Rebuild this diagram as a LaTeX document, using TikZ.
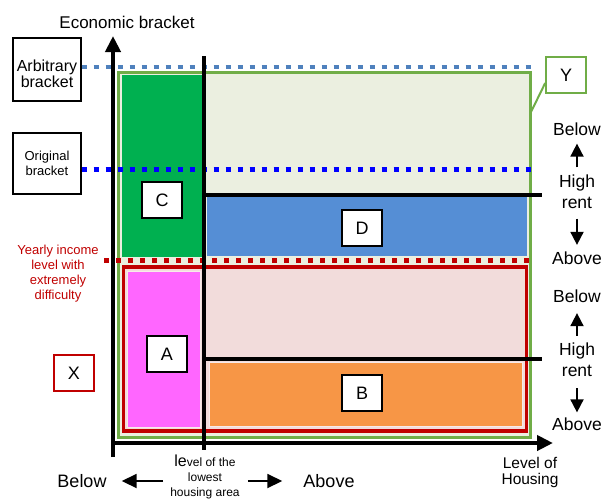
\documentclass[tikz,border=0pt]{standalone}
\usepackage{fontspec}
\setmainfont{Liberation Sans}
\usepackage{tikz}
\usetikzlibrary{arrows.meta,positioning}
\definecolor{bandgreen}{HTML}{70AD47}
\definecolor{palegreen}{HTML}{EBEFE0}
\definecolor{zoneC}{HTML}{00B050}
\definecolor{zoneD}{HTML}{558ED5}
\definecolor{darkred}{HTML}{C00000}
\definecolor{palered}{HTML}{F2DCDB}
\definecolor{zoneA}{HTML}{FF66FF}
\definecolor{zoneB}{HTML}{F79646}
\definecolor{steelblue}{HTML}{4F81BD}
\definecolor{pureblue}{HTML}{0000FF}
\tikzset{
    %Define standard arrow tip
    >={Triangle[length=16pt,width=15pt]},
    %Define style for letter boxes
    letter/.style={
           rectangle,
           draw=black, line width=1.6pt,
           fill=white,
           minimum width=40pt,
           minimum height=36pt,
           inner sep=0pt,
           font=\fontsize{18}{18}\selectfont,
           text centered},
    bracketbox/.style={
           rectangle,
           draw=black, line width=1.4pt,
           fill=white,
           minimum width=68pt,
           inner sep=0pt,
           align=center},
    word/.style={
           inner sep=0pt,
           align=center,
           font=\fontsize{17.5}{21}\selectfont},
    redtext/.style={
           inner sep=0pt,
           align=center,
           text=darkred,
           font=\fontsize{13}{15}\selectfont},
    % Define line styles
    bracket/.style={line width=5pt, dash pattern=on 5pt off 7pt},
    thickrule/.style={line width=4.5pt},
    axisline/.style={->, line width=4.5pt},
    smallarrow/.style={->, line width=1.8pt, >={Triangle[length=13pt,width=13pt]}},
    flatarrow/.style={->, line width=1.8pt, >={Triangle[length=15pt,width=14pt]}}
}
\begin{document}
\begin{tikzpicture}[x=1pt,y=-1pt]
\useasboundingbox (0,0) rectangle (603,499);

% zones
\draw[bandgreen, line width=3pt, fill=palegreen] (118.5,72) rectangle (530.5,437);
\fill[zoneC] (122,75) rectangle (202,257);
\fill[zoneD] (207,197) rectangle (527,256);
\draw[darkred, line width=3.5pt, fill=palered] (123.5,267) rectangle (526.5,431);
\draw[palered!60!white, line width=1pt, fill=zoneA] (127,271) rectangle (200,427);
\draw[palered!60!white, line width=1pt, fill=zoneB] (209,362) rectangle (522,426);

% bracket boxes and dotted levels
\node[bracketbox, minimum height=63pt, font=\fontsize{16}{16}\selectfont] (arbitrary) at (47,69.5) {\rule{0pt}{21pt}Arbitrary\\bracket};
\node[bracketbox, minimum height=61pt, font=\fontsize{13}{15}\selectfont] (original) at (47,163.5) {Original\\bracket};
\coordinate (arbend) at (531,67);
\coordinate (origend) at (531,169);
\coordinate (incstart) at (104,260);
\coordinate (incend) at (533,260);
\draw[bracket, steelblue, line width=4.5pt] (arbitrary.east |- arbend) -- (arbend);
\draw[bracket, pureblue] (original.east |- origend) -- (origend);
\draw[bracket, darkred] (incstart) -- (incend);

% axes and rules
\coordinate (O) at (113,443);
\coordinate (ytop) at (113,36);
\coordinate (ybot) at (113,457);
\coordinate (xend) at (553,443);
\coordinate (lowtop) at (204,56);
\coordinate (lowbot) at (204,450);
\coordinate (rentU) at (542,195);
\coordinate (rentL) at (542,359);
\draw[thickrule] (lowtop |- rentU) -- (rentU);
\draw[thickrule] (lowtop |- rentL) -- (rentL);
\draw[thickrule] (lowtop) -- (lowbot);
\draw[axisline] (ybot) -- (ytop);
\draw[axisline] (O) -- (xend);

% letters
\node[letter] (boxC) at (162,200) {C};
\node[letter] (boxD) at (362,228) {D};
\node[letter] (boxA) at (167,354) {A};
\node[letter] (boxB) at (362,393) {B};
\node[letter, draw=darkred] (boxX) at (74,373) {X};
\node[letter, draw=bandgreen] (boxY) at (566,75) {Y};
\coordinate (Ytip) at (531,112);
\draw[bandgreen, line width=2pt] ([yshift=-8pt]boxY.west) -- (Ytip);

% texts
\node[inner sep=0pt, font=\fontsize{17}{17}\selectfont] (econ) at (127,22) {Economic bracket};
\node[redtext] (income) at (58,274) {Yearly income\\level with\\extremely\\difficulty};
\node[inner sep=0pt, align=center, font=\fontsize{15.5}{16}\selectfont] (housing) at (530,472) {Level of\\Housing};

% high rent scales
\node[word] (below1) at (577,129) {Below};
\node[word] (rent1) at (577,191.5) {High\\rent};
\node[word] (above1) at (577,258.5) {Above};
\draw[smallarrow, shorten <=7pt, shorten >=8pt] (rent1) -- (below1);
\draw[smallarrow, shorten <=10pt, shorten >=7pt] (rent1) -- (above1);
\node[word] (below2) at (577,296.5) {Below};
\node[word] (rent2) at (577,360) {High\\rent};
\node[word] (above2) at (577,424) {Above};
\draw[smallarrow, shorten <=7pt, shorten >=10pt] (rent2) -- (below2);
\draw[smallarrow, shorten <=11pt, shorten >=5pt] (rent2) -- (above2);

% lowest housing level
\node[word, font=\fontsize{18}{18}\selectfont] (belowL) at (82,481) {Below};
\node[inner sep=0pt, align=center, font=\fontsize{12}{15}\selectfont] (lowest) at (205,476.5) {{\fontsize{16}{15}\selectfont le}vel of the\\lowest\\housing area};
\node[word, font=\fontsize{18}{18}\selectfont] (aboveR) at (329,481) {Above};
\draw[flatarrow, shorten <=7pt, shorten >=15pt] (lowest.west |- belowL) -- (belowL.east);
\draw[flatarrow, shorten <=8pt, shorten >=21pt] (lowest.east |- aboveR) -- (aboveR.west);
\end{tikzpicture}
\end{document}
